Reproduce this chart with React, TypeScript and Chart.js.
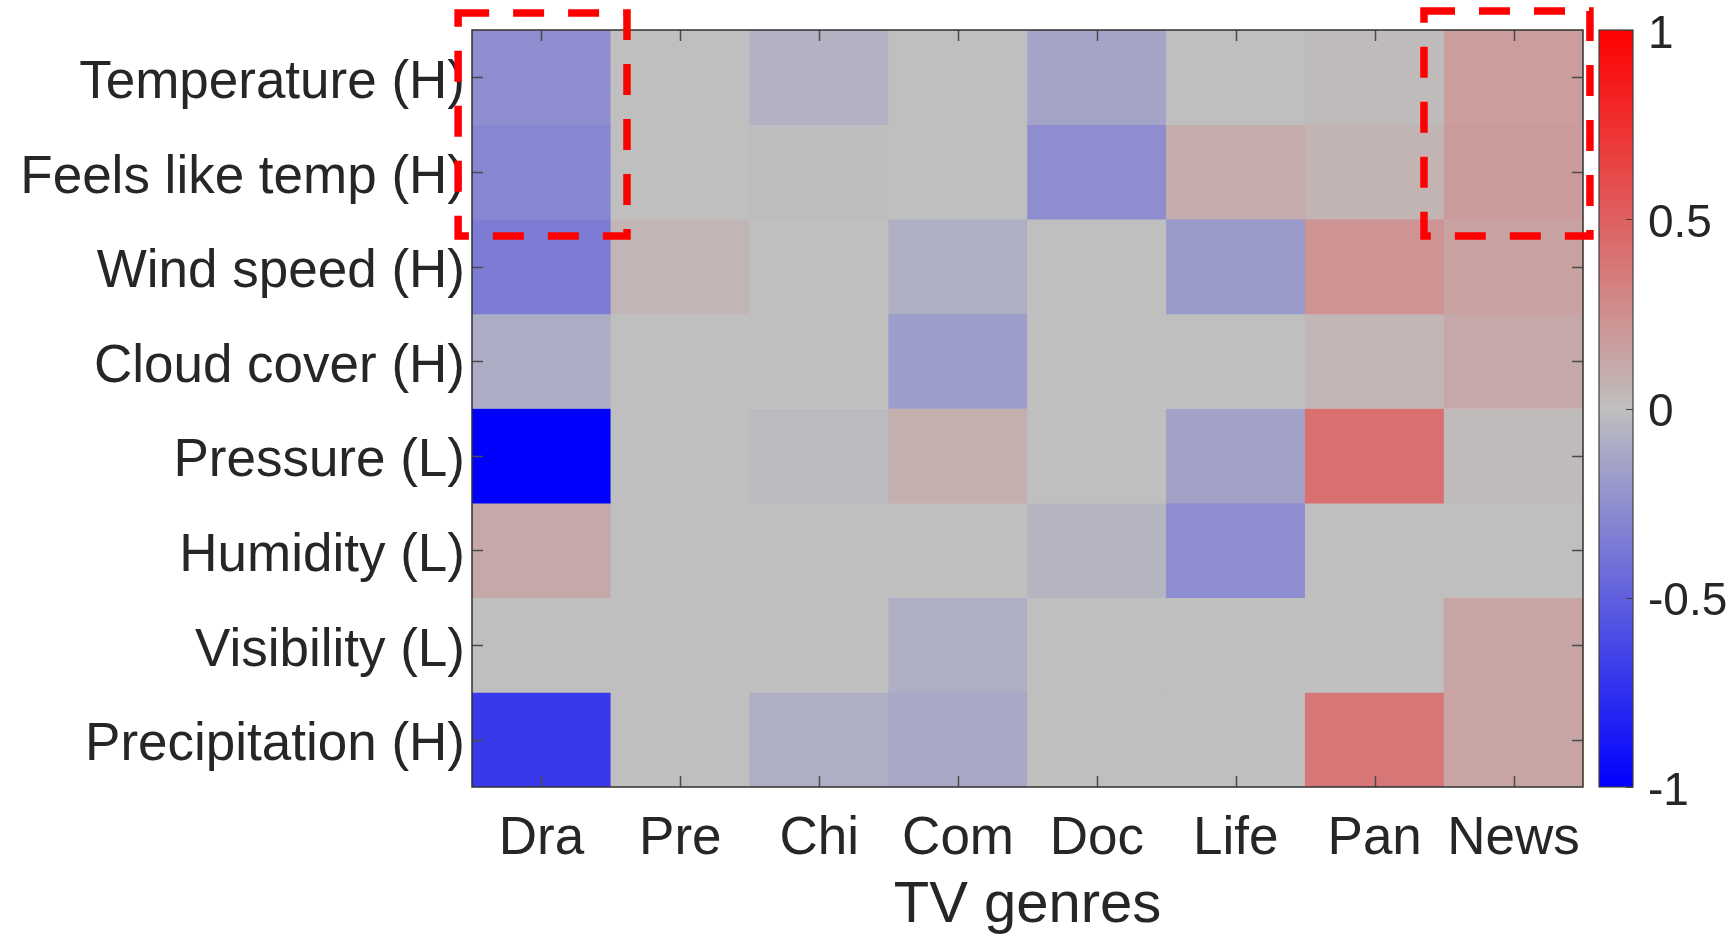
import React, { useEffect, useRef } from 'react';
import { Chart, registerables } from 'chart.js';

Chart.register(...registerables);

// ---------- data ----------
const genres = ['Dra', 'Pre', 'Chi', 'Com', 'Doc', 'Life', 'Pan', 'News'];
const factors = [
  'Temperature (H)',
  'Feels like temp (H)',
  'Wind speed (H)',
  'Cloud cover (H)',
  'Pressure (L)',
  'Humidity (L)',
  'Visibility (L)',
  'Precipitation (H)',
];
const temperatureRow = [-0.26, 0, -0.07, 0, -0.14, 0, 0.02, 0.18];
const feelsLikeRow = [-0.3, 0, -0.01, 0, -0.26, 0.1, 0.06, 0.19];
const windSpeedRow = [-0.35, 0.05, 0, -0.09, 0, -0.19, 0.23, 0.15];
const cloudCoverRow = [-0.1, 0, 0, -0.18, 0, 0, 0.05, 0.12];
const pressureRow = [-1.0, 0, -0.02, 0.09, 0, -0.15, 0.42, 0.02];
const humidityRow = [0.12, 0, 0, 0, -0.05, -0.26, 0, 0];
const visibilityRow = [0, 0, 0, -0.09, 0, 0, 0, 0.14];
const precipitationRow = [-0.7, 0, -0.09, -0.12, 0, 0, 0.38, 0.14];
const correlationRows = [
  temperatureRow,
  feelsLikeRow,
  windSpeedRow,
  cloudCoverRow,
  pressureRow,
  humidityRow,
  visibilityRow,
  precipitationRow,
];
const colorbarTicks = [-1, -0.5, 0, 0.5, 1];
const xAxisTitle = 'TV genres';
// highlighted regions, in data units (column index / row index)
const highlightBoxes = [
  { x0: -0.6, x1: 0.616, y0: -0.68, y1: 1.677 },
  { x0: 6.355, x1: 7.55, y0: -0.7, y1: 1.677 },
];

// ---------- helpers ----------
const GRAY = 191;
function colorFor(v: number): string {
  const t = Math.min(1, Math.abs(v));
  const low = Math.round(GRAY * (1 - t));
  const high = Math.round(GRAY + (255 - GRAY) * t);
  if (v < 0) return `rgb(${low},${low},${high})`;
  return `rgb(${high},${low},${low})`;
}

const FONT = "'Liberation Sans', Arial, Helvetica, sans-serif";
const TEXT = '#262626';

const decorPlugin = {
  id: 'heatmapDecor',
  afterDatasetsDraw(chart: any) {
    const { ctx, chartArea: a, scales } = chart;
    const xs = scales.x;
    const ys = scales.y;
    const cb = scales.cb;
    ctx.save();
    // inward ticks on all four sides
    ctx.strokeStyle = '#4a4a4a';
    ctx.lineWidth = 1.5;
    ctx.beginPath();
    genres.forEach((_, i) => {
      const px = Math.round(xs.getPixelForValue(i)) + 0.5;
      ctx.moveTo(px, a.top);
      ctx.lineTo(px, a.top + 11);
      ctx.moveTo(px, a.bottom);
      ctx.lineTo(px, a.bottom - 11);
    });
    factors.forEach((_, i) => {
      const py = Math.round(ys.getPixelForValue(i)) + 0.5;
      ctx.moveTo(a.left, py);
      ctx.lineTo(a.left + 11, py);
      ctx.moveTo(a.right, py);
      ctx.lineTo(a.right - 11, py);
    });
    ctx.stroke();
    // axes box
    ctx.strokeStyle = '#303030';
    ctx.lineWidth = 1.5;
    ctx.strokeRect(a.left, a.top, a.right - a.left, a.bottom - a.top);

    // colour bar
    const cx0 = a.right + 16;
    const cx1 = a.right + 50;
    const top = cb.getPixelForValue(1);
    const bot = cb.getPixelForValue(-1);
    const g = ctx.createLinearGradient(0, top, 0, bot);
    g.addColorStop(0, colorFor(1));
    g.addColorStop(0.5, colorFor(0));
    g.addColorStop(1, colorFor(-1));
    ctx.fillStyle = g;
    ctx.fillRect(cx0, top, cx1 - cx0, bot - top);
    ctx.strokeStyle = '#404040';
    ctx.lineWidth = 1.2;
    ctx.strokeRect(cx0, top, cx1 - cx0, bot - top);
    ctx.beginPath();
    colorbarTicks.forEach((v) => {
      const py = Math.round(cb.getPixelForValue(v)) + 0.5;
      ctx.moveTo(cx1, py);
      ctx.lineTo(cx1 - 7, py);
    });
    ctx.stroke();
    ctx.restore();
  },
  afterDraw(chart: any) {
    const { ctx, scales } = chart;
    const xs = scales.x;
    const ys = scales.y;
    ctx.save();
    ctx.strokeStyle = '#ff0000';
    ctx.lineWidth = 7.5;
    ctx.lineCap = 'butt';
    ctx.setLineDash([31, 24]);
    highlightBoxes.forEach((b) => {
      const x0 = xs.getPixelForValue(b.x0);
      const x1 = xs.getPixelForValue(b.x1);
      const y0 = ys.getPixelForValue(b.y0);
      const y1 = ys.getPixelForValue(b.y1);
      ctx.strokeRect(x0, y0, x1 - x0, y1 - y0);
    });
    ctx.restore();
  },
};

export default function App() {
  const canvasRef = useRef<HTMLCanvasElement | null>(null);

  useEffect(() => {
    const canvas = canvasRef.current;
    if (!canvas) return;

    const datasets = correlationRows.map((row, r) => ({
      label: factors[r],
      data: row.map(() => [r - 0.5, r + 0.5]),
      backgroundColor: row.map((v) => colorFor(v)),
      borderWidth: 0,
      barPercentage: 1,
      categoryPercentage: 1,
      grouped: false,
      yAxisID: 'y',
    }));

    const noPad = (s: any) => {
      s.paddingTop = 0;
      s.paddingBottom = 0;
    };

    const chart = new Chart(canvas, {
      type: 'bar',
      data: { labels: genres, datasets: datasets as any },
      options: {
        animation: false,
        responsive: false,
        devicePixelRatio: 1,
        layout: { padding: { top: 30, left: 0, right: 0, bottom: 0 } },
        plugins: {
          legend: { display: false },
          tooltip: { enabled: false },
        },
        scales: {
          x: {
            type: 'category',
            position: 'bottom',
            grid: { display: false, drawTicks: false },
            border: { display: false },
            ticks: {
              color: TEXT,
              font: { family: FONT, size: 53 },
              padding: 21,
              maxRotation: 0,
              autoSkip: false,
            },
            title: {
              display: true,
              text: xAxisTitle,
              color: TEXT,
              font: { family: FONT, size: 58, lineHeight: 1 },
              padding: { top: 0, bottom: 2 },
            },
            afterFit: (s: any) => {
              s.height = 150;
              s.paddingLeft = 0;
              s.paddingRight = 0;
            },
          },
          y: {
            type: 'linear',
            position: 'left',
            reverse: true,
            min: -0.5,
            max: 7.5,
            grid: { display: false, drawTicks: false },
            border: { display: false },
            afterBuildTicks: (s: any) => {
              s.ticks = factors.map((_, i) => ({ value: i }));
            },
            ticks: {
              color: TEXT,
              font: { family: FONT, size: 53 },
              padding: 7,
              labelOffset: 6,
              autoSkip: false,
              callback: (v: any) => factors[Number(v)] ?? '',
            },
            afterFit: (s: any) => {
              s.width = 472;
              noPad(s);
            },
          },
          cb: {
            type: 'linear',
            position: 'right',
            min: -1,
            max: 1,
            grid: { display: false, drawTicks: false },
            border: { display: false },
            afterBuildTicks: (s: any) => {
              s.ticks = colorbarTicks.map((v) => ({ value: v }));
            },
            ticks: {
              color: TEXT,
              font: { family: FONT, size: 46 },
              padding: 65,
              labelOffset: 5,
              autoSkip: false,
              callback: (v: any) => String(v),
            },
            afterFit: (s: any) => {
              s.width = 151;
              noPad(s);
            },
          },
        },
      } as any,
      plugins: [decorPlugin],
    });

    return () => {
      chart.destroy();
    };
  }, []);

  return (
    <div style={{ position: 'absolute', left: 0, top: 0, width: 1734, height: 937, background: '#ffffff' }}>
      <canvas ref={canvasRef} width={1734} height={937} style={{ display: 'block' }} />
    </div>
  );
}
